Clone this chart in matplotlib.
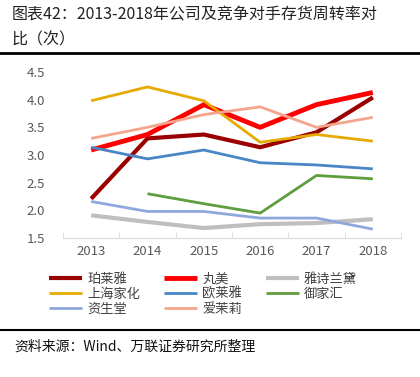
import numpy as np
import matplotlib
matplotlib.use('Agg')
import matplotlib.pyplot as plt
from matplotlib.lines import Line2D

plt.rcParams['font.family'] = ['Noto Sans CJK SC', 'DejaVu Sans']

years = ['2013', '2014', '2015', '2016', '2017', '2018']

# inventory turnover (times)
proya     = [2.21, 3.30, 3.37, 3.14, 3.41, 4.04]
marubi    = [3.09, 3.37, 3.91, 3.50, 3.91, 4.13]
estee     = [1.91, 1.79, 1.68, 1.75, 1.77, 1.84]
jahwa     = [3.98, 4.23, 3.98, 3.23, 3.37, 3.25]
loreal    = [3.14, 2.93, 3.09, 2.86, 2.82, 2.75]
yujiahui  = [np.nan, 2.30, 2.12, 1.95, 2.63, 2.57]
shiseido  = [2.16, 1.98, 1.98, 1.86, 1.86, 1.66]
amore     = [3.30, 3.50, 3.73, 3.87, 3.50, 3.68]

names = ['珀莱雅', '丸美', '雅诗兰黛', '上海家化', '欧莱雅', '御家汇', '资生堂', '爱茉莉']
series = [proya, marubi, estee, jahwa, loreal, yujiahui, shiseido, amore]
colors = ['#9A0000', '#FF0000', '#BFBFBF', '#E6AA00', '#4A86C6', '#5E9E3C', '#8EA8DE', '#F4A68C']
widths = [3.0, 3.5, 3.0, 2.0, 2.0, 2.0, 2.0, 2.0]

fig = plt.figure(figsize=(4.2, 3.77), dpi=100)

# title
fig.text(12/420, 1 - 15/377, '图表42：2013-2018年公司及竞争对手存货周转率对',
         fontsize=11.5, color='#222222', va='center', ha='left')
fig.text(12/420, 1 - 40/377, '比（次）',
         fontsize=11.5, color='#222222', va='center', ha='left')
fig.add_artist(Line2D([0, 1], [1 - 53/377, 1 - 53/377], color='black', lw=2.0))

ax = fig.add_axes([63/420, 1 - 238/377, 338/420, 166/377])
x = np.arange(len(years))
for name, ys, c, w in zip(names, series, colors, widths):
    ax.plot(x, ys, color=c, lw=w, label=name, solid_capstyle='butt')

ax.set_xlim(-0.5, len(years) - 0.5)
ax.set_ylim(1.5, 4.5)
ax.set_yticks([1.5, 2.0, 2.5, 3.0, 3.5, 4.0, 4.5])
ax.set_xticks(x)
ax.set_xticklabels(years)
ax.set_xticks(np.arange(-0.5, len(years)), minor=True)
for s in ['left', 'right', 'top']:
    ax.spines[s].set_visible(False)
ax.spines['bottom'].set_color('#D9D9D9')
ax.tick_params(axis='x', which='major', length=0, labelsize=9.5, labelcolor='#595959', pad=5)
ax.tick_params(axis='x', which='minor', length=4, color='#D9D9D9', direction='in')
ax.tick_params(axis='y', length=0, labelsize=9.5, labelcolor='#595959', pad=13)

# legend is row-major in the reference; matplotlib fills by column
handles, labels = ax.get_legend_handles_labels()
order = [0, 3, 6, 1, 4, 7, 2, 5]
fig.legend([handles[i] for i in order], [labels[i] for i in order], ncol=3,
           loc='upper left', bbox_to_anchor=(37/420, 1 - 261/377), frameon=False,
           fontsize=9.5, handlelength=2.5, handletextpad=0.4,
           columnspacing=1.8, labelspacing=0.15, labelcolor='#404040')

# source
fig.add_artist(Line2D([0, 1], [1 - 330/377, 1 - 330/377], color='black', lw=1.5))
fig.text(14/420, 1 - 347/377, '资料来源：Wind、万联证券研究所整理',
         fontsize=10, color='#111111', va='center', ha='left', style='italic')

fig.savefig('out.png', dpi=100)
